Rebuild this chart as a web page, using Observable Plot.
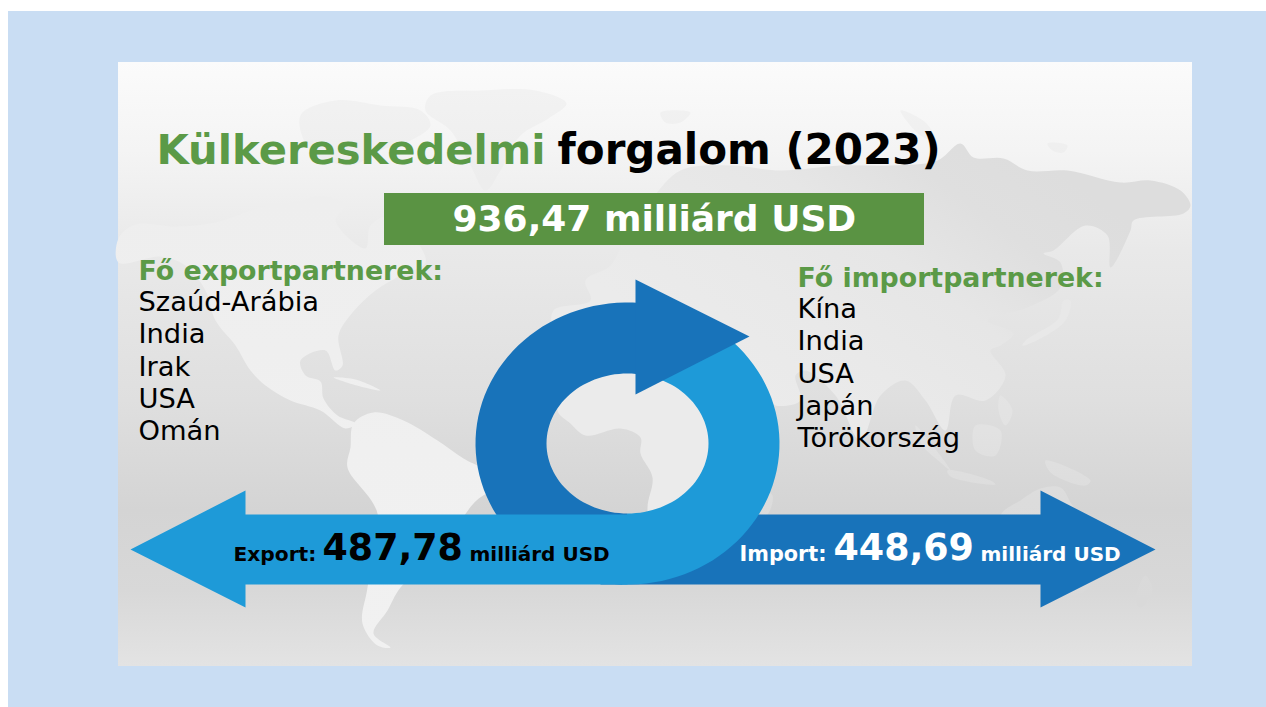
<!DOCTYPE html>
<html lang="hu">
<head>
<meta charset="utf-8">
<style>
html,body{margin:0;padding:0;background:#fff;overflow:hidden}
svg{display:block}
</style>
<script src="https://cdn.jsdelivr.net/npm/d3@7"></script>
<script src="https://cdn.jsdelivr.net/npm/@observablehq/plot@0.6"></script>
</head>
<body>
<div id="chart"></div>
<script>
// ---- data ----
const year = 2023;
const exportValue = 487.78;
const importValue = 448.69;
const totalValue = 936.47;
const unit = "milliárd USD";
const exportPartners = ["Szaúd-Arábia", "India", "Irak", "USA", "Omán"];
const importPartners = ["Kína", "India", "USA", "Japán", "Törökország"];
const hu = v => v.toFixed(2).replace(".", ",");

// ---- picture geometry (decorative shapes of the infographic) ----
const FONT = "'DejaVu Sans', Verdana, sans-serif";
const GREEN = "#5a9343", TGREEN = "#5b9a47", DARK = "#1873ba", LIGHT = "#1e9ad8";
const cx = 627, cy = 443, orx = 152, ory = 141, irx = 81, iry = 70;
const arc = (rx, ry, a0, a1, step) => d3.range(a0, a1 + (step > 0 ? .01 : -.01), step)
  .map(a => [cx + rx * Math.cos(a * Math.PI / 180), cy + ry * Math.sin(a * Math.PI / 180)]);

const darkRing = [...arc(orx, ory, -85, -270, -3), ...arc(irx, iry, 90, 276, 3)];
const lightRing = [...arc(orx, ory, -55, 102, 3), [620, 540], ...arc(irx, iry, 90, -70, -3)];
const headDark = [[635, 279], [749, 336], [635, 394]];
const importArrow = [[600,514],[1040,514],[1040,490],[1155,549],[1040,607],[1040,584],[600,584]];
const exportArrow = [[130,549],[245,490],[245,514],[627,514],[627,584],[245,584],[245,607]];

const northAmerica = [[118,238],[135,224],[175,226],[215,222],[260,207],[300,200],[320,195],[345,205],[335,220],[365,248],[370,225],[390,215],[412,235],[425,262],[400,275],[375,290],[352,312],[338,335],[342,365],[335,370],[325,350],[300,360],[305,375],[320,381],[323,398],[337,415],[355,423],[345,428],[320,410],[290,400],[265,385],[250,370],[235,345],[215,320],[205,290],[185,265],[160,256],[118,262]];
const southAmerica = [[353,423],[373,412],[403,420],[437,440],[463,458],[500,480],[473,503],[440,550],[400,587],[387,610],[373,633],[390,647],[377,645],[362,623],[367,587],[377,513],[347,467],[350,447]];
const cuba = [[333,377],[355,379],[380,390],[360,386]];
const arcticIslands = [[300,115],[335,100],[380,105],[420,110],[430,125],[410,140],[380,150],[350,165],[310,150]];
const greenland = [[430,95],[480,90],[535,90],[566,103],[548,118],[520,135],[500,170],[485,190],[470,165],[450,130],[425,110]];
const eurasia = [[555,335],[553,310],[590,300],[585,280],[610,265],[630,225],[650,200],[680,170],[730,165],[780,170],[840,165],[890,165],[937,160],[960,143],[973,157],[1003,158],[1027,170],[1067,170],[1120,182],[1150,180],[1180,190],[1190,205],[1183,213],[1133,220],[1130,230],[1110,267],[1107,235],[1085,225],[1053,250],[1043,253],[1060,262],[1060,287],[1027,307],[987,320],[1013,333],[1000,345],[990,350],[1005,375],[985,400],[955,395],[945,430],[925,400],[905,380],[880,395],[860,440],[835,395],[805,370],[795,375],[800,400],[775,405],[770,400],[745,370],[735,345],[700,335],[660,330],[620,340],[590,330]];
const africa = [[557,410],[570,423],[585,435],[620,428],[640,437],[640,453],[652,477],[647,508],[655,560],[690,575],[720,540],[740,500],[745,460],[775,440],[745,420],[725,370],[680,355],[640,350],[600,360],[570,380]];
const southIslands = [
  [[760,490],[772,495],[766,515],[758,512]],
  [[915,425],[932,445],[950,470],[940,462],[922,445]],
  [[947,470],[990,480],[995,484],[950,476]],
  [[975,425],[1000,430],[995,455],[975,450]],
  [[1000,395],[1012,410],[1005,425],[998,410]],
  [[1045,460],[1090,480],[1085,485],[1050,472]],
  [[1000,515],[1020,500],[1040,488],[1060,487],[1072,505],[1100,540],[1085,590],[1050,595],[1040,570],[1005,560]],
  [[1145,575],[1152,590],[1140,607],[1135,600]]
];
const japan = [[1063,300],[1058,318],[1025,340],[1022,345],[1040,338],[1065,320],[1070,300]];
const northIslands = [
  [[900,110],[925,122],[935,140],[920,135]],
  [[1047,143],[1067,145],[1063,152],[1052,150]],
  [[660,112],[690,112],[680,122],[665,122]]
];

// ---- text rows ----
const textRows = [
  {t:"Külkereskedelmi", x:156, y:150, s:41.7, w:"bold", f:TGREEN},
  {t:`forgalom (${year})`, x:557, y:150, s:42, w:"bold", f:"#000"},
  {t:`${hu(totalValue)} ${unit}`, x:452, y:219, s:36, w:"bold", f:"#fff"},
  {t:"Fő exportpartnerek:", x:138, y:271, s:26.8, w:"bold", f:TGREEN},
  {t:"Fő importpartnerek:", x:797, y:278, s:26.8, w:"bold", f:TGREEN},
  ...exportPartners.map((t,i)=>({t, x:138, y:302+i*32.2, s:27.3, w:"normal", f:"#000"})),
  ...importPartners.map((t,i)=>({t, x:797, y:309+i*32.2, s:27.3, w:"normal", f:"#000"})),
  {t:"Export:", x:233, y:554, s:20.2, w:"bold", f:"#000"},
  {t:hu(exportValue), x:322, y:548, s:36.4, w:"bold", f:"#000"},
  {t:unit, x:469, y:554, s:20, w:"bold", f:"#000"},
  {t:"Import:", x:739, y:554, s:20.8, w:"bold", f:"#fff"},
  {t:hu(importValue), x:833, y:548, s:36.4, w:"bold", f:"#fff"},
  {t:unit, x:980, y:554, s:20, w:"bold", f:"#fff"}
];

const grad = (id, stops) => {
  const g = d3.create("svg:linearGradient").attr("id", id)
    .attr("gradientUnits","userSpaceOnUse").attr("x1",0).attr("x2",0).attr("y1",0).attr("y2",707);
  stops.forEach(([y,c]) => g.append("stop").attr("offset", y/707).attr("stop-color", c));
  return g.node();
};
const diag = (id, stops) => {
  const g = d3.create("svg:linearGradient").attr("id", id)
    .attr("gradientUnits","userSpaceOnUse").attr("x1",620).attr("y1",300).attr("x2",841).attr("y2",6);
  stops.forEach(([t,c]) => g.append("stop").attr("offset", t).attr("stop-color", c));
  return g.node();
};
const defs = () => {
  const d = d3.create("svg:defs");
  d.append(() => grad("panelG", [[62,"#fbfbfb"],[150,"#f4f4f4"],[250,"#e9e9e9"],[400,"#dfdfdf"],[440,"#dbdbdb"],[510,"#d4d4d4"],[590,"#d8d8d8"],[666,"#e3e3e3"]]));
  d.append(() => grad("landW", [[90,"#f1f1f1"],[200,"#eeeeee"],[350,"#efefef"],[450,"#f0f0f0"],[650,"#f1f1f1"]]));
  d.append(() => grad("landN", [[90,"#f2f2f2"],[180,"#ededed"]]));
  d.append(() => grad("landS", [[350,"#e6e6e6"],[430,"#e2e2e2"],[500,"#dcdcdc"],[600,"#d9d9d9"]]));
  d.append(() => diag("landE", [[0,"#ebebeb"],[.27,"#e9e9e9"],[.54,"#e6e6e6"],[.78,"#dfdfdf"],[1,"#dddddd"]]));
  return d.node();
};

const poly = (pts, fill) => Plot.line(pts, {x: d => d[0], y: d => d[1], fill, stroke: "none", curve: "linear"});
const land = (pts, fill) => Plot.line(pts, {x: d => d[0], y: d => d[1], fill, stroke: "none", curve: "catmull-rom-closed"});

const chart = Plot.plot({
  width: 1266, height: 707, margin: 0,
  style: {background: "#fff", fontFamily: FONT},
  x: {domain: [0, 1266], range: [0, 1266], axis: null},
  y: {domain: [0, 707], range: [0, 707], axis: null},
  marks: [
    defs,
    Plot.rect([0], {x1: 8, x2: 1266, y1: 11, y2: 707, fill: "#c9ddf3"}),
    Plot.rect([0], {x1: 118, x2: 1192, y1: 62, y2: 666, fill: "url(#panelG)"}),
    land(northAmerica, "url(#landW)"),
    land(southAmerica, "url(#landW)"),
    land(cuba, "url(#landW)"),
    land(arcticIslands, "url(#landN)"),
    land(greenland, "url(#landN)"),
    land(eurasia, "url(#landE)"),
    land(africa, "#ebebeb"),
    land(japan, "#e8e8e8"),
    ...southIslands.map(p => land(p, "url(#landS)")),
    ...northIslands.map(p => land(p, "url(#landN)")),
    Plot.rect([0], {x1: 384, x2: 924, y1: 193, y2: 245, fill: GREEN}),
    poly(importArrow, DARK),
    poly(darkRing, DARK),
    poly(lightRing, LIGHT),
    poly(exportArrow, LIGHT),
    poly(headDark, DARK),
    ...textRows.map(r => Plot.text([r], {
      x: "x", y: "y", text: "t", textAnchor: "start", fill: "f",
      fontSize: r.s, fontWeight: r.w, fontFamily: FONT
    }))
  ],
  color: {type: "identity"}
});
document.getElementById("chart").append(chart);
</script>
</body>
</html>
